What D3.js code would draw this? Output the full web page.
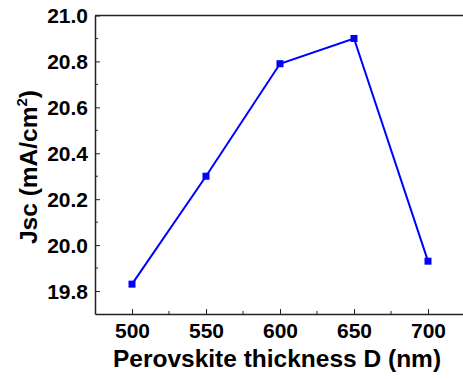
<!DOCTYPE html>
<html><head><meta charset="utf-8">
<script src="https://cdn.jsdelivr.net/npm/d3@7"></script>
<style>body{margin:0;background:#fff}svg{display:block}text{font-family:"Liberation Sans",Arial,sans-serif;font-weight:bold}</style>
</head><body>
<script>
const thickness = [500, 550, 600, 650, 700];
const jsc = [19.83, 20.30, 20.79, 20.90, 19.93];
const xTicks = [500, 550, 600, 650, 700];
const yTicks = [19.8, 20.0, 20.2, 20.4, 20.6, 20.8, 21.0];

const W = 463, H = 379;
const m = {l: 95, t: 15.5, r: 465, b: 314};
const svg = d3.select("body").append("svg").attr("width", W).attr("height", H);
const x = d3.scaleLinear().domain([475, 725]).range([m.l, m.r]);
const y = d3.scaleLinear().domain([19.7, 21.0]).range([m.b, m.t]);

const ax = "#222";
const xMinor = d3.range(525, 725, 50);
const yMinor = d3.range(19.9, 21.0, 0.2);
svg.append("g").selectAll("line").data(xMinor).join("line")
  .attr("x1", d => x(d)).attr("x2", d => x(d)).attr("y1", m.b).attr("y2", m.b - 3)
  .attr("stroke", ax).attr("stroke-width", 1);
svg.append("g").selectAll("line").data(yMinor).join("line")
  .attr("y1", d => y(d)).attr("y2", d => y(d)).attr("x1", m.l).attr("x2", m.l + 3)
  .attr("stroke", ax).attr("stroke-width", 1);

const gx = svg.append("g").attr("transform", `translate(0,${m.b})`)
  .call(d3.axisBottom(x).tickValues(xTicks).tickSizeInner(-5).tickSizeOuter(0).tickPadding(9));
const gy = svg.append("g").attr("transform", `translate(${m.l},0)`)
  .call(d3.axisLeft(y).tickValues(yTicks).tickFormat(d3.format(".1f")).tickSizeInner(-5).tickSizeOuter(0).tickPadding(7));
[gx, gy].forEach(g => {
  g.select(".domain").attr("stroke", ax).attr("stroke-width", 1.5);
  g.selectAll(".tick line").attr("stroke", ax).attr("stroke-width", 1);
  g.selectAll("text").attr("font-size", 21).attr("fill", "#000").attr("font-family", "Liberation Sans, Arial, sans-serif").attr("font-weight", "bold");
});
gy.selectAll("text").attr("dy", "0.35em");
svg.append("line").attr("x1", m.l).attr("x2", m.r).attr("y1", m.t).attr("y2", m.t)
  .attr("stroke", ax).attr("stroke-width", 1.5);

const pts = thickness.map((t, i) => [t, jsc[i]]);
svg.append("path").datum(pts)
  .attr("d", d3.line().x(d => x(d[0])).y(d => y(d[1])))
  .attr("fill", "none").attr("stroke", "#0000ff").attr("stroke-width", 2);
svg.append("g").selectAll("rect").data(pts).join("rect")
  .attr("x", d => x(d[0]) - 3.5).attr("y", d => y(d[1]) - 3.5)
  .attr("width", 7).attr("height", 7).attr("fill", "#0000ff");

svg.append("text").attr("x", 277).attr("y", 367).attr("text-anchor", "middle")
  .attr("font-size", 24.5).text("Perovskite thickness D (nm)");
const yt = svg.append("text").attr("transform", `translate(37,167) rotate(-90)`)
  .attr("text-anchor", "middle").attr("font-size", 24.5);
yt.append("tspan").text("Jsc (mA/cm");
yt.append("tspan").attr("font-size", 15).attr("dy", -10).text("2");
yt.append("tspan").attr("dy", 10).text(")");
</script>
</body></html>
